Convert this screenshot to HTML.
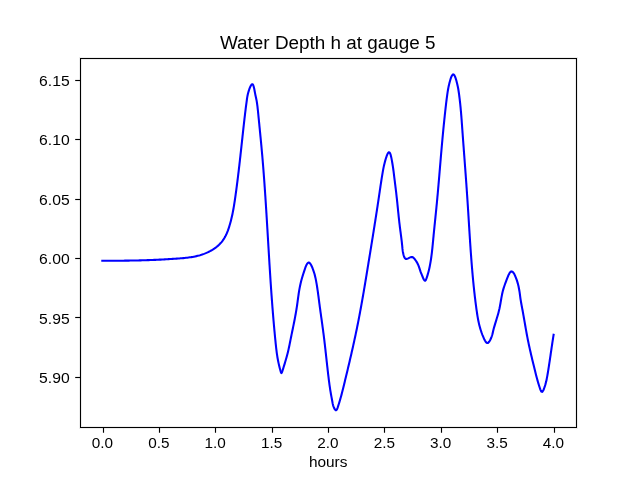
<!DOCTYPE html><html><head><meta charset="utf-8"><style>html,body{margin:0;padding:0;background:#fff;}svg{display:block;will-change:transform;}text{font-family:"Liberation Sans", sans-serif;fill:#000;}</style></head><body>
<svg width="640" height="480" viewBox="0 0 640 480">
<rect x="0" y="0" width="640" height="480" fill="#fff"/>
<path d="M102.30 260.72 L103.63 260.72 L104.96 260.73 L106.29 260.73 L107.62 260.73 L108.95 260.74 L110.28 260.74 L111.61 260.74 L112.94 260.73 L114.27 260.73 L115.60 260.73 L116.93 260.72 L118.26 260.71 L119.58 260.70 L120.91 260.69 L122.24 260.68 L123.57 260.67 L124.90 260.66 L126.22 260.64 L127.55 260.62 L128.88 260.60 L130.20 260.58 L131.53 260.56 L132.86 260.54 L134.18 260.51 L135.51 260.48 L136.84 260.45 L138.16 260.42 L139.49 260.39 L140.81 260.36 L142.14 260.32 L143.47 260.28 L144.79 260.24 L146.12 260.20 L147.44 260.16 L148.77 260.11 L150.10 260.06 L151.42 260.01 L152.75 259.96 L154.08 259.90 L155.40 259.85 L156.73 259.79 L158.06 259.73 L159.38 259.66 L160.71 259.60 L162.04 259.53 L163.36 259.46 L164.69 259.39 L166.02 259.31 L167.35 259.23 L168.68 259.15 L170.00 259.07 L171.33 258.99 L172.66 258.90 L173.99 258.81 L175.32 258.72 L176.65 258.62 L177.98 258.52 L179.31 258.42 L180.64 258.32 L181.97 258.20 L183.30 258.09 L184.62 257.96 L185.95 257.82 L187.27 257.67 L188.59 257.50 L189.90 257.32 L191.21 257.13 L192.52 256.91 L193.82 256.67 L195.12 256.41 L196.41 256.13 L197.69 255.82 L198.97 255.49 L200.24 255.13 L201.50 254.74 L202.75 254.32 L203.99 253.87 L205.22 253.39 L206.44 252.88 L207.65 252.34 L208.85 251.76 L210.03 251.15 L211.20 250.51 L212.36 249.83 L213.50 249.11 L214.61 248.35 L215.71 247.56 L216.78 246.74 L217.81 245.87 L218.81 244.98 L219.77 244.04 L220.68 243.08 L221.55 242.08 L222.36 241.04 L223.13 239.98 L223.85 238.88 L224.54 237.76 L225.18 236.62 L225.78 235.45 L226.35 234.26 L226.88 233.05 L227.39 231.82 L227.87 230.59 L228.32 229.34 L228.75 228.08 L229.16 226.81 L229.55 225.53 L229.93 224.26 L230.29 222.98 L230.64 221.69 L230.98 220.41 L231.30 219.11 L231.61 217.82 L231.90 216.52 L232.19 215.22 L232.47 213.92 L232.73 212.62 L232.99 211.31 L233.23 210.00 L233.47 208.69 L233.70 207.38 L233.92 206.07 L234.14 204.76 L234.35 203.44 L234.55 202.12 L234.75 200.81 L234.95 199.49 L235.14 198.17 L235.33 196.86 L235.51 195.54 L235.70 194.22 L235.88 192.91 L236.06 191.59 L236.24 190.27 L236.42 188.96 L236.59 187.64 L236.76 186.33 L236.94 185.01 L237.10 183.70 L237.27 182.38 L237.44 181.06 L237.60 179.75 L237.77 178.43 L237.93 177.12 L238.09 175.80 L238.25 174.49 L238.41 173.17 L238.57 171.86 L238.72 170.54 L238.88 169.22 L239.03 167.91 L239.18 166.59 L239.34 165.27 L239.49 163.96 L239.64 162.64 L239.79 161.32 L239.93 160.00 L240.08 158.69 L240.23 157.37 L240.38 156.05 L240.52 154.73 L240.67 153.41 L240.81 152.09 L240.96 150.77 L241.10 149.45 L241.25 148.13 L241.39 146.80 L241.54 145.48 L241.68 144.16 L241.82 142.83 L241.97 141.51 L242.11 140.18 L242.26 138.86 L242.40 137.53 L242.54 136.20 L242.69 134.87 L242.83 133.54 L242.98 132.22 L243.12 130.89 L243.27 129.56 L243.42 128.23 L243.56 126.91 L243.71 125.58 L243.86 124.25 L244.01 122.93 L244.16 121.61 L244.31 120.29 L244.46 118.97 L244.62 117.65 L244.77 116.33 L244.93 115.02 L245.08 113.71 L245.24 112.40 L245.40 111.10 L245.56 109.79 L245.72 108.49 L245.88 107.20 L246.05 105.91 L246.22 104.62 L246.39 103.33 L246.56 102.05 L246.73 100.78 L246.90 99.50 L247.09 98.22 L247.30 96.91 L247.56 95.54 L247.88 94.09 L248.28 92.53 L248.76 90.88 L249.31 89.23 L249.90 87.66 L250.52 86.28 L251.14 85.17 L251.74 84.45 L252.31 84.19 L252.81 84.49 L253.27 85.28 L253.67 86.46 L254.04 87.91 L254.37 89.54 L254.69 91.23 L254.99 92.86 L255.28 94.36 L255.57 95.73 L255.85 97.01 L256.12 98.24 L256.37 99.44 L256.61 100.67 L256.82 101.93 L257.02 103.22 L257.21 104.54 L257.38 105.87 L257.54 107.21 L257.69 108.56 L257.84 109.91 L257.98 111.25 L258.12 112.58 L258.25 113.91 L258.38 115.24 L258.51 116.56 L258.64 117.88 L258.77 119.19 L258.90 120.51 L259.03 121.83 L259.16 123.15 L259.29 124.47 L259.42 125.78 L259.55 127.10 L259.68 128.42 L259.81 129.74 L259.94 131.07 L260.07 132.39 L260.20 133.71 L260.33 135.03 L260.46 136.35 L260.59 137.67 L260.72 139.00 L260.85 140.32 L260.97 141.64 L261.10 142.96 L261.22 144.29 L261.35 145.61 L261.47 146.93 L261.59 148.26 L261.71 149.58 L261.83 150.90 L261.95 152.23 L262.07 153.55 L262.19 154.87 L262.30 156.20 L262.42 157.52 L262.53 158.85 L262.64 160.17 L262.75 161.50 L262.86 162.82 L262.97 164.14 L263.08 165.47 L263.18 166.79 L263.29 168.12 L263.39 169.44 L263.50 170.77 L263.60 172.09 L263.70 173.42 L263.80 174.74 L263.90 176.07 L264.00 177.39 L264.10 178.72 L264.20 180.04 L264.30 181.37 L264.39 182.69 L264.49 184.02 L264.58 185.34 L264.67 186.67 L264.77 187.99 L264.86 189.32 L264.95 190.64 L265.04 191.97 L265.13 193.29 L265.22 194.62 L265.31 195.94 L265.40 197.27 L265.48 198.59 L265.57 199.92 L265.66 201.25 L265.74 202.57 L265.83 203.90 L265.91 205.22 L266.00 206.55 L266.08 207.87 L266.17 209.20 L266.25 210.53 L266.33 211.85 L266.42 213.18 L266.50 214.50 L266.58 215.83 L266.66 217.16 L266.74 218.48 L266.82 219.81 L266.90 221.13 L266.98 222.46 L267.06 223.79 L267.14 225.11 L267.22 226.44 L267.30 227.76 L267.38 229.09 L267.46 230.42 L267.54 231.74 L267.62 233.07 L267.70 234.39 L267.78 235.72 L267.86 237.05 L267.94 238.37 L268.02 239.70 L268.09 241.02 L268.17 242.35 L268.25 243.68 L268.33 245.00 L268.41 246.33 L268.49 247.65 L268.57 248.98 L268.65 250.31 L268.73 251.63 L268.81 252.96 L268.89 254.28 L268.97 255.61 L269.05 256.94 L269.13 258.26 L269.21 259.59 L269.29 260.91 L269.37 262.24 L269.45 263.57 L269.54 264.89 L269.62 266.22 L269.70 267.54 L269.78 268.87 L269.87 270.19 L269.95 271.52 L270.04 272.85 L270.12 274.17 L270.21 275.50 L270.29 276.82 L270.38 278.15 L270.47 279.47 L270.55 280.80 L270.64 282.12 L270.73 283.45 L270.82 284.78 L270.91 286.10 L271.00 287.43 L271.09 288.75 L271.19 290.08 L271.28 291.40 L271.37 292.73 L271.47 294.05 L271.56 295.38 L271.66 296.70 L271.75 298.03 L271.85 299.35 L271.95 300.68 L272.05 302.00 L272.15 303.33 L272.25 304.65 L272.35 305.97 L272.45 307.30 L272.56 308.62 L272.66 309.95 L272.77 311.27 L272.87 312.60 L272.98 313.92 L273.09 315.24 L273.20 316.57 L273.31 317.89 L273.42 319.22 L273.54 320.54 L273.65 321.86 L273.76 323.19 L273.88 324.51 L274.00 325.84 L274.12 327.16 L274.24 328.48 L274.36 329.81 L274.48 331.13 L274.61 332.45 L274.73 333.78 L274.86 335.10 L274.98 336.42 L275.11 337.74 L275.24 339.07 L275.38 340.39 L275.51 341.71 L275.64 343.03 L275.78 344.36 L275.92 345.68 L276.06 347.00 L276.21 348.32 L276.37 349.63 L276.53 350.95 L276.70 352.26 L276.88 353.56 L277.07 354.87 L277.26 356.17 L277.47 357.46 L277.70 358.75 L277.93 360.04 L278.18 361.32 L278.45 362.60 L278.73 363.90 L279.04 365.21 L279.36 366.55 L279.71 367.93 L280.08 369.34 L280.47 370.81 L280.90 372.25 L281.34 373.10 L281.81 372.73 L282.28 371.45 L282.73 369.98 L283.17 368.58 L283.58 367.24 L283.99 365.93 L284.39 364.63 L284.78 363.35 L285.17 362.07 L285.54 360.80 L285.91 359.54 L286.28 358.28 L286.63 357.02 L286.97 355.76 L287.31 354.50 L287.63 353.23 L287.95 351.96 L288.25 350.68 L288.55 349.38 L288.84 348.08 L289.12 346.77 L289.39 345.45 L289.66 344.13 L289.92 342.80 L290.19 341.48 L290.45 340.16 L290.71 338.84 L290.98 337.53 L291.25 336.22 L291.51 334.92 L291.78 333.62 L292.05 332.32 L292.31 331.03 L292.58 329.74 L292.84 328.45 L293.11 327.16 L293.37 325.88 L293.63 324.59 L293.89 323.30 L294.15 322.01 L294.40 320.73 L294.65 319.43 L294.90 318.14 L295.14 316.85 L295.38 315.55 L295.62 314.25 L295.85 312.94 L296.07 311.63 L296.29 310.31 L296.51 308.99 L296.72 307.67 L296.92 306.33 L297.12 304.99 L297.31 303.65 L297.50 302.30 L297.68 300.95 L297.86 299.60 L298.05 298.26 L298.23 296.92 L298.42 295.59 L298.61 294.27 L298.80 292.96 L299.00 291.67 L299.21 290.40 L299.43 289.15 L299.66 287.91 L299.90 286.68 L300.15 285.47 L300.42 284.25 L300.70 283.03 L301.00 281.80 L301.32 280.56 L301.66 279.31 L302.02 278.02 L302.40 276.72 L302.81 275.37 L303.24 273.99 L303.70 272.56 L304.18 271.09 L304.70 269.56 L305.24 267.99 L305.82 266.46 L306.42 265.06 L307.05 263.88 L307.70 263.02 L308.39 262.57 L309.09 262.61 L309.81 263.14 L310.54 264.07 L311.25 265.29 L311.93 266.72 L312.57 268.26 L313.15 269.82 L313.67 271.31 L314.13 272.72 L314.53 274.08 L314.88 275.39 L315.19 276.66 L315.48 277.91 L315.73 279.15 L315.98 280.39 L316.21 281.64 L316.44 282.90 L316.66 284.17 L316.87 285.45 L317.08 286.73 L317.28 288.03 L317.47 289.33 L317.66 290.63 L317.85 291.95 L318.03 293.26 L318.21 294.59 L318.39 295.91 L318.56 297.24 L318.74 298.57 L318.91 299.90 L319.08 301.23 L319.25 302.56 L319.43 303.89 L319.60 305.22 L319.78 306.54 L319.96 307.87 L320.14 309.19 L320.32 310.51 L320.50 311.83 L320.68 313.14 L320.87 314.46 L321.05 315.77 L321.23 317.09 L321.42 318.40 L321.60 319.71 L321.79 321.02 L321.97 322.34 L322.15 323.65 L322.33 324.96 L322.51 326.27 L322.69 327.58 L322.87 328.89 L323.05 330.20 L323.22 331.51 L323.39 332.82 L323.56 334.14 L323.73 335.45 L323.90 336.77 L324.06 338.08 L324.22 339.40 L324.38 340.72 L324.54 342.04 L324.69 343.36 L324.85 344.68 L325.00 346.00 L325.15 347.32 L325.30 348.64 L325.45 349.96 L325.59 351.28 L325.74 352.61 L325.89 353.93 L326.03 355.25 L326.18 356.58 L326.32 357.90 L326.47 359.22 L326.61 360.55 L326.76 361.87 L326.91 363.19 L327.05 364.52 L327.20 365.84 L327.35 367.16 L327.50 368.48 L327.65 369.80 L327.80 371.12 L327.95 372.44 L328.10 373.76 L328.26 375.08 L328.42 376.40 L328.58 377.71 L328.74 379.03 L328.90 380.35 L329.07 381.66 L329.25 382.97 L329.43 384.29 L329.61 385.60 L329.80 386.91 L329.99 388.22 L330.19 389.54 L330.40 390.85 L330.62 392.16 L330.84 393.47 L331.07 394.77 L331.31 396.08 L331.56 397.39 L331.81 398.69 L332.05 399.99 L332.28 401.29 L332.51 402.58 L332.75 403.88 L333.07 405.22 L333.53 406.63 L334.16 408.11 L334.90 409.38 L335.66 410.15 L336.35 410.12 L336.95 409.33 L337.48 408.07 L337.97 406.63 L338.44 405.19 L338.89 403.78 L339.32 402.39 L339.73 401.01 L340.13 399.65 L340.51 398.31 L340.88 396.99 L341.24 395.67 L341.59 394.37 L341.93 393.08 L342.26 391.79 L342.58 390.52 L342.90 389.25 L343.22 387.98 L343.53 386.71 L343.84 385.45 L344.15 384.18 L344.45 382.91 L344.76 381.64 L345.07 380.37 L345.38 379.10 L345.69 377.83 L346.00 376.55 L346.30 375.28 L346.61 374.00 L346.92 372.72 L347.23 371.44 L347.53 370.16 L347.84 368.88 L348.14 367.59 L348.45 366.31 L348.75 365.02 L349.06 363.73 L349.36 362.44 L349.66 361.15 L349.96 359.86 L350.26 358.57 L350.56 357.28 L350.86 355.99 L351.16 354.69 L351.45 353.40 L351.75 352.10 L352.04 350.80 L352.34 349.51 L352.63 348.21 L352.92 346.91 L353.21 345.61 L353.50 344.31 L353.79 343.01 L354.07 341.71 L354.35 340.40 L354.64 339.10 L354.92 337.80 L355.20 336.50 L355.47 335.19 L355.75 333.89 L356.02 332.58 L356.30 331.28 L356.57 329.97 L356.84 328.67 L357.10 327.36 L357.37 326.06 L357.63 324.75 L357.89 323.44 L358.15 322.14 L358.41 320.83 L358.66 319.52 L358.91 318.22 L359.16 316.91 L359.41 315.60 L359.66 314.30 L359.91 312.99 L360.15 311.68 L360.39 310.37 L360.64 309.07 L360.87 307.76 L361.11 306.45 L361.35 305.14 L361.58 303.83 L361.82 302.53 L362.05 301.22 L362.28 299.91 L362.51 298.60 L362.74 297.29 L362.97 295.99 L363.20 294.68 L363.42 293.37 L363.65 292.06 L363.87 290.75 L364.09 289.44 L364.32 288.13 L364.54 286.83 L364.76 285.52 L364.98 284.21 L365.20 282.90 L365.41 281.59 L365.63 280.28 L365.85 278.97 L366.07 277.66 L366.28 276.35 L366.50 275.05 L366.71 273.74 L366.93 272.43 L367.14 271.12 L367.36 269.81 L367.57 268.50 L367.79 267.19 L368.00 265.88 L368.22 264.58 L368.43 263.27 L368.64 261.96 L368.86 260.65 L369.07 259.34 L369.29 258.03 L369.50 256.72 L369.71 255.42 L369.93 254.11 L370.14 252.80 L370.35 251.49 L370.57 250.18 L370.78 248.87 L370.99 247.56 L371.20 246.25 L371.42 244.94 L371.63 243.63 L371.84 242.32 L372.05 241.01 L372.26 239.70 L372.48 238.39 L372.69 237.08 L372.90 235.77 L373.11 234.46 L373.32 233.15 L373.53 231.84 L373.73 230.52 L373.94 229.21 L374.15 227.90 L374.36 226.59 L374.57 225.27 L374.77 223.96 L374.98 222.65 L375.19 221.33 L375.39 220.02 L375.60 218.70 L375.80 217.39 L376.01 216.07 L376.21 214.75 L376.42 213.44 L376.62 212.12 L376.82 210.80 L377.02 209.48 L377.23 208.16 L377.43 206.85 L377.63 205.53 L377.83 204.21 L378.02 202.88 L378.22 201.56 L378.42 200.24 L378.62 198.92 L378.81 197.59 L379.01 196.27 L379.21 194.95 L379.40 193.62 L379.59 192.30 L379.79 190.97 L379.98 189.65 L380.18 188.33 L380.37 187.01 L380.57 185.70 L380.76 184.39 L380.96 183.08 L381.16 181.78 L381.36 180.48 L381.56 179.19 L381.76 177.91 L381.97 176.63 L382.18 175.36 L382.39 174.10 L382.60 172.85 L382.81 171.61 L383.03 170.37 L383.26 169.13 L383.50 167.88 L383.76 166.60 L384.05 165.28 L384.38 163.89 L384.75 162.42 L385.17 160.87 L385.64 159.22 L386.16 157.56 L386.70 155.98 L387.27 154.56 L387.84 153.40 L388.41 152.59 L388.95 152.23 L389.47 152.38 L389.95 153.02 L390.39 154.07 L390.80 155.41 L391.18 156.97 L391.53 158.64 L391.85 160.34 L392.14 161.97 L392.40 163.51 L392.64 164.97 L392.85 166.37 L393.05 167.71 L393.24 169.00 L393.41 170.26 L393.57 171.49 L393.72 172.70 L393.87 173.91 L394.02 175.13 L394.17 176.36 L394.32 177.61 L394.48 178.87 L394.64 180.16 L394.81 181.46 L394.97 182.78 L395.14 184.11 L395.30 185.45 L395.47 186.79 L395.64 188.15 L395.80 189.50 L395.96 190.86 L396.13 192.22 L396.29 193.58 L396.44 194.94 L396.59 196.29 L396.74 197.63 L396.89 198.97 L397.03 200.30 L397.17 201.63 L397.31 202.95 L397.44 204.27 L397.58 205.58 L397.71 206.89 L397.84 208.20 L397.97 209.51 L398.10 210.81 L398.23 212.12 L398.37 213.42 L398.50 214.72 L398.64 216.03 L398.78 217.33 L398.92 218.64 L399.06 219.95 L399.20 221.26 L399.35 222.57 L399.51 223.89 L399.67 225.21 L399.83 226.54 L400.00 227.86 L400.17 229.20 L400.34 230.53 L400.52 231.87 L400.69 233.21 L400.87 234.54 L401.04 235.88 L401.21 237.21 L401.38 238.53 L401.54 239.85 L401.70 241.17 L401.85 242.48 L401.99 243.78 L402.13 245.07 L402.25 246.35 L402.37 247.62 L402.49 248.90 L402.64 250.18 L402.83 251.49 L403.07 252.82 L403.37 254.19 L403.76 255.61 L404.25 257.05 L404.90 258.29 L405.78 258.98 L406.94 258.91 L408.26 258.34 L409.60 257.65 L410.90 257.11 L412.11 257.00 L413.20 257.49 L414.19 258.43 L415.08 259.59 L415.89 260.75 L416.63 261.89 L417.29 263.03 L417.88 264.20 L418.40 265.41 L418.88 266.66 L419.32 267.92 L419.73 269.18 L420.14 270.42 L420.55 271.63 L420.98 272.80 L421.44 273.98 L421.94 275.21 L422.50 276.53 L423.12 277.98 L423.80 279.45 L424.50 280.51 L425.17 280.74 L425.80 280.03 L426.39 278.69 L426.92 277.11 L427.40 275.57 L427.83 274.12 L428.22 272.74 L428.57 271.42 L428.89 270.15 L429.19 268.90 L429.46 267.66 L429.72 266.42 L429.97 265.17 L430.21 263.92 L430.43 262.65 L430.65 261.38 L430.85 260.10 L431.05 258.81 L431.23 257.51 L431.41 256.21 L431.58 254.90 L431.75 253.59 L431.91 252.28 L432.06 250.95 L432.20 249.63 L432.35 248.30 L432.49 246.97 L432.62 245.64 L432.75 244.31 L432.88 242.97 L433.01 241.64 L433.14 240.30 L433.26 238.96 L433.39 237.63 L433.52 236.30 L433.64 234.96 L433.77 233.63 L433.90 232.31 L434.03 230.98 L434.17 229.66 L434.30 228.33 L434.43 227.01 L434.57 225.69 L434.70 224.37 L434.84 223.05 L434.97 221.73 L435.11 220.41 L435.24 219.10 L435.38 217.78 L435.51 216.47 L435.65 215.15 L435.78 213.83 L435.91 212.52 L436.05 211.20 L436.18 209.89 L436.31 208.57 L436.44 207.25 L436.57 205.94 L436.70 204.62 L436.83 203.30 L436.95 201.98 L437.08 200.66 L437.20 199.34 L437.32 198.02 L437.44 196.70 L437.57 195.37 L437.69 194.05 L437.81 192.73 L437.92 191.40 L438.04 190.08 L438.16 188.75 L438.27 187.43 L438.39 186.10 L438.51 184.78 L438.62 183.45 L438.73 182.13 L438.85 180.80 L438.96 179.47 L439.07 178.15 L439.19 176.82 L439.30 175.49 L439.41 174.17 L439.52 172.84 L439.63 171.51 L439.75 170.19 L439.86 168.86 L439.97 167.53 L440.08 166.21 L440.19 164.88 L440.30 163.56 L440.42 162.23 L440.53 160.90 L440.64 159.58 L440.75 158.25 L440.86 156.93 L440.98 155.60 L441.09 154.28 L441.21 152.96 L441.32 151.63 L441.43 150.31 L441.55 148.99 L441.67 147.67 L441.78 146.35 L441.90 145.03 L442.02 143.71 L442.14 142.39 L442.26 141.07 L442.38 139.75 L442.50 138.43 L442.62 137.12 L442.74 135.80 L442.87 134.48 L442.99 133.17 L443.12 131.85 L443.24 130.54 L443.37 129.22 L443.50 127.90 L443.63 126.58 L443.76 125.27 L443.90 123.95 L444.03 122.63 L444.17 121.30 L444.30 119.98 L444.44 118.66 L444.58 117.33 L444.72 116.00 L444.86 114.67 L445.01 113.34 L445.15 112.00 L445.30 110.67 L445.45 109.33 L445.60 107.98 L445.75 106.64 L445.91 105.30 L446.06 103.97 L446.22 102.63 L446.38 101.31 L446.54 100.00 L446.71 98.69 L446.88 97.40 L447.05 96.13 L447.22 94.86 L447.40 93.62 L447.58 92.40 L447.77 91.19 L447.97 89.96 L448.19 88.72 L448.44 87.42 L448.73 86.07 L449.06 84.63 L449.43 83.09 L449.86 81.45 L450.34 79.77 L450.85 78.17 L451.40 76.73 L451.97 75.56 L452.56 74.75 L453.16 74.41 L453.76 74.60 L454.35 75.29 L454.92 76.38 L455.47 77.75 L455.99 79.32 L456.47 80.98 L456.90 82.64 L457.27 84.20 L457.60 85.65 L457.89 87.01 L458.13 88.31 L458.35 89.55 L458.55 90.77 L458.73 91.98 L458.90 93.21 L459.08 94.47 L459.25 95.75 L459.42 97.05 L459.58 98.37 L459.74 99.69 L459.89 101.01 L460.04 102.34 L460.18 103.66 L460.32 104.99 L460.46 106.32 L460.59 107.65 L460.71 108.97 L460.83 110.30 L460.95 111.63 L461.06 112.96 L461.18 114.29 L461.28 115.62 L461.39 116.95 L461.49 118.27 L461.60 119.60 L461.70 120.93 L461.79 122.26 L461.89 123.59 L461.99 124.92 L462.08 126.25 L462.18 127.57 L462.27 128.90 L462.37 130.23 L462.47 131.55 L462.56 132.88 L462.66 134.21 L462.75 135.53 L462.85 136.86 L462.95 138.18 L463.05 139.51 L463.14 140.83 L463.24 142.15 L463.34 143.48 L463.44 144.80 L463.54 146.12 L463.64 147.45 L463.74 148.77 L463.83 150.09 L463.93 151.41 L464.03 152.73 L464.13 154.06 L464.23 155.38 L464.33 156.70 L464.43 158.02 L464.53 159.34 L464.63 160.66 L464.73 161.98 L464.82 163.30 L464.92 164.63 L465.02 165.95 L465.12 167.27 L465.22 168.59 L465.32 169.91 L465.41 171.23 L465.51 172.55 L465.61 173.87 L465.71 175.20 L465.80 176.52 L465.90 177.84 L466.00 179.16 L466.09 180.48 L466.19 181.80 L466.28 183.13 L466.38 184.45 L466.47 185.77 L466.56 187.10 L466.66 188.42 L466.75 189.74 L466.84 191.07 L466.93 192.39 L467.02 193.71 L467.11 195.04 L467.20 196.37 L467.29 197.69 L467.38 199.02 L467.47 200.34 L467.56 201.67 L467.64 203.00 L467.73 204.32 L467.82 205.65 L467.90 206.98 L467.98 208.31 L468.07 209.64 L468.15 210.97 L468.24 212.30 L468.32 213.63 L468.40 214.96 L468.49 216.29 L468.57 217.62 L468.65 218.95 L468.73 220.28 L468.82 221.61 L468.90 222.94 L468.98 224.27 L469.06 225.60 L469.15 226.93 L469.23 228.27 L469.31 229.60 L469.40 230.93 L469.48 232.26 L469.57 233.59 L469.65 234.92 L469.74 236.25 L469.82 237.58 L469.91 238.91 L470.00 240.25 L470.08 241.58 L470.17 242.91 L470.26 244.24 L470.35 245.57 L470.44 246.90 L470.53 248.23 L470.62 249.56 L470.72 250.88 L470.81 252.21 L470.91 253.54 L471.00 254.87 L471.10 256.20 L471.20 257.53 L471.30 258.85 L471.40 260.18 L471.50 261.51 L471.61 262.83 L471.71 264.16 L471.82 265.48 L471.93 266.81 L472.04 268.13 L472.15 269.45 L472.26 270.78 L472.37 272.10 L472.49 273.42 L472.61 274.74 L472.73 276.06 L472.85 277.38 L472.97 278.70 L473.10 280.02 L473.22 281.34 L473.35 282.66 L473.48 283.97 L473.62 285.29 L473.75 286.60 L473.89 287.92 L474.03 289.23 L474.17 290.54 L474.31 291.85 L474.46 293.16 L474.61 294.47 L474.76 295.78 L474.91 297.09 L475.07 298.40 L475.23 299.70 L475.39 301.01 L475.55 302.31 L475.72 303.62 L475.89 304.92 L476.06 306.22 L476.24 307.52 L476.41 308.82 L476.59 310.12 L476.78 311.41 L476.97 312.71 L477.16 314.01 L477.37 315.30 L477.58 316.60 L477.80 317.90 L478.04 319.20 L478.29 320.50 L478.56 321.81 L478.85 323.11 L479.16 324.43 L479.48 325.74 L479.83 327.06 L480.21 328.38 L480.61 329.71 L481.04 331.05 L481.49 332.39 L481.98 333.74 L482.50 335.10 L483.06 336.46 L483.65 337.83 L484.28 339.21 L484.94 340.55 L485.65 341.73 L486.39 342.60 L487.16 343.03 L487.97 342.87 L488.80 342.16 L489.60 341.05 L490.35 339.70 L491.01 338.26 L491.56 336.86 L492.02 335.50 L492.41 334.17 L492.74 332.88 L493.04 331.61 L493.33 330.35 L493.64 329.10 L493.97 327.85 L494.32 326.60 L494.68 325.34 L495.05 324.09 L495.43 322.83 L495.82 321.58 L496.21 320.32 L496.60 319.05 L496.98 317.78 L497.37 316.51 L497.74 315.23 L498.11 313.95 L498.46 312.66 L498.80 311.36 L499.11 310.06 L499.41 308.75 L499.68 307.43 L499.95 306.10 L500.19 304.78 L500.43 303.45 L500.66 302.13 L500.89 300.80 L501.12 299.49 L501.35 298.18 L501.59 296.87 L501.83 295.58 L502.09 294.31 L502.36 293.04 L502.65 291.80 L502.96 290.57 L503.29 289.36 L503.65 288.16 L504.04 286.96 L504.45 285.75 L504.89 284.50 L505.37 283.21 L505.87 281.85 L506.40 280.42 L506.97 278.90 L507.57 277.34 L508.19 275.81 L508.84 274.40 L509.51 273.17 L510.21 272.22 L510.92 271.60 L511.64 271.41 L512.37 271.68 L513.11 272.35 L513.83 273.34 L514.54 274.59 L515.21 276.02 L515.84 277.56 L516.43 279.14 L516.96 280.68 L517.42 282.17 L517.84 283.61 L518.20 285.00 L518.52 286.34 L518.80 287.66 L519.05 288.94 L519.27 290.20 L519.47 291.44 L519.66 292.67 L519.83 293.89 L519.99 295.11 L520.16 296.34 L520.32 297.57 L520.50 298.83 L520.70 300.10 L520.91 301.40 L521.14 302.72 L521.37 304.05 L521.62 305.40 L521.88 306.76 L522.13 308.11 L522.39 309.47 L522.64 310.81 L522.88 312.16 L523.13 313.49 L523.36 314.81 L523.60 316.13 L523.83 317.45 L524.06 318.76 L524.29 320.06 L524.51 321.36 L524.74 322.66 L524.96 323.96 L525.18 325.25 L525.41 326.54 L525.63 327.83 L525.86 329.11 L526.09 330.40 L526.32 331.69 L526.56 332.98 L526.79 334.27 L527.03 335.56 L527.28 336.86 L527.53 338.15 L527.79 339.45 L528.05 340.76 L528.32 342.07 L528.59 343.38 L528.87 344.69 L529.15 346.01 L529.44 347.33 L529.73 348.65 L530.03 349.97 L530.33 351.28 L530.63 352.60 L530.93 353.92 L531.24 355.23 L531.55 356.54 L531.86 357.85 L532.17 359.15 L532.48 360.45 L532.79 361.74 L533.10 363.02 L533.42 364.30 L533.73 365.57 L534.04 366.84 L534.34 368.09 L534.65 369.34 L534.96 370.58 L535.26 371.81 L535.56 373.03 L535.87 374.26 L536.19 375.50 L536.51 376.74 L536.85 378.01 L537.20 379.29 L537.57 380.61 L537.96 381.95 L538.37 383.33 L538.80 384.76 L539.26 386.23 L539.75 387.75 L540.28 389.29 L540.83 390.64 L541.42 391.58 L542.04 391.85 L542.70 391.34 L543.35 390.23 L543.97 388.76 L544.54 387.20 L545.02 385.73 L545.43 384.38 L545.78 383.10 L546.09 381.86 L546.36 380.65 L546.62 379.42 L546.87 378.17 L547.12 376.89 L547.35 375.59 L547.58 374.28 L547.80 372.96 L548.02 371.63 L548.24 370.30 L548.45 368.97 L548.66 367.64 L548.86 366.32 L549.06 365.00 L549.27 363.68 L549.47 362.36 L549.66 361.05 L549.86 359.74 L550.05 358.42 L550.25 357.11 L550.44 355.80 L550.63 354.50 L550.82 353.19 L551.01 351.88 L551.21 350.57 L551.40 349.26 L551.59 347.96 L551.78 346.65 L551.98 345.34 L552.18 344.03 L552.37 342.71 L552.57 341.40 L552.77 340.08 L552.98 338.77 L553.18 337.45 L553.39 336.12 L553.60 334.80" fill="none" stroke="#0000ff" stroke-width="2.08" stroke-linejoin="round" stroke-linecap="square"/>
<g fill="#000">
<g fill-opacity="0.07"><rect x="80" y="57" width="497" height="1"/><rect x="80" y="59" width="496" height="1"/><rect x="80" y="426" width="496" height="1"/><rect x="80" y="428" width="497" height="1"/><rect x="79" y="57" width="1" height="372"/><rect x="81" y="59" width="1" height="367"/><rect x="575" y="59" width="1" height="367"/><rect x="577" y="57" width="1" height="372"/></g>
<rect x="80" y="58" width="497" height="1"/>
<rect x="80" y="427" width="497" height="1"/>
<rect x="80" y="58" width="1" height="370"/>
<rect x="576" y="58" width="1" height="370"/>
<rect x="75.2" y="80" width="4.8" height="1"/><rect x="75.2" y="79" width="4.8" height="1" fill-opacity="0.07"/><rect x="75.2" y="81" width="4.8" height="1" fill-opacity="0.07"/>
<rect x="75.2" y="139" width="4.8" height="1"/><rect x="75.2" y="138" width="4.8" height="1" fill-opacity="0.07"/><rect x="75.2" y="140" width="4.8" height="1" fill-opacity="0.07"/>
<rect x="75.2" y="199" width="4.8" height="1"/><rect x="75.2" y="198" width="4.8" height="1" fill-opacity="0.07"/><rect x="75.2" y="200" width="4.8" height="1" fill-opacity="0.07"/>
<rect x="75.2" y="258" width="4.8" height="1"/><rect x="75.2" y="257" width="4.8" height="1" fill-opacity="0.07"/><rect x="75.2" y="259" width="4.8" height="1" fill-opacity="0.07"/>
<rect x="75.2" y="317" width="4.8" height="1"/><rect x="75.2" y="316" width="4.8" height="1" fill-opacity="0.07"/><rect x="75.2" y="318" width="4.8" height="1" fill-opacity="0.07"/>
<rect x="75.2" y="377" width="4.8" height="1"/><rect x="75.2" y="376" width="4.8" height="1" fill-opacity="0.07"/><rect x="75.2" y="378" width="4.8" height="1" fill-opacity="0.07"/>
<rect x="103" y="428" width="1" height="4.75"/><rect x="102" y="428" width="1" height="4.75" fill-opacity="0.07"/><rect x="104" y="428" width="1" height="4.75" fill-opacity="0.07"/>
<rect x="159" y="428" width="1" height="4.75"/><rect x="158" y="428" width="1" height="4.75" fill-opacity="0.07"/><rect x="160" y="428" width="1" height="4.75" fill-opacity="0.07"/>
<rect x="215" y="428" width="1" height="4.75"/><rect x="214" y="428" width="1" height="4.75" fill-opacity="0.07"/><rect x="216" y="428" width="1" height="4.75" fill-opacity="0.07"/>
<rect x="272" y="428" width="1" height="4.75"/><rect x="271" y="428" width="1" height="4.75" fill-opacity="0.07"/><rect x="273" y="428" width="1" height="4.75" fill-opacity="0.07"/>
<rect x="328" y="428" width="1" height="4.75"/><rect x="327" y="428" width="1" height="4.75" fill-opacity="0.07"/><rect x="329" y="428" width="1" height="4.75" fill-opacity="0.07"/>
<rect x="384" y="428" width="1" height="4.75"/><rect x="383" y="428" width="1" height="4.75" fill-opacity="0.07"/><rect x="385" y="428" width="1" height="4.75" fill-opacity="0.07"/>
<rect x="441" y="428" width="1" height="4.75"/><rect x="440" y="428" width="1" height="4.75" fill-opacity="0.07"/><rect x="442" y="428" width="1" height="4.75" fill-opacity="0.07"/>
<rect x="497" y="428" width="1" height="4.75"/><rect x="496" y="428" width="1" height="4.75" fill-opacity="0.07"/><rect x="498" y="428" width="1" height="4.75" fill-opacity="0.07"/>
<rect x="554" y="428" width="1" height="4.75"/><rect x="553" y="428" width="1" height="4.75" fill-opacity="0.07"/><rect x="555" y="428" width="1" height="4.75" fill-opacity="0.07"/>
</g>
<text x="69.7" y="86.00" font-size="14.70" text-anchor="end" textLength="30.6" lengthAdjust="spacingAndGlyphs">6.15</text>
<text x="69.7" y="145.40" font-size="14.70" text-anchor="end" textLength="30.6" lengthAdjust="spacingAndGlyphs">6.10</text>
<text x="69.7" y="204.80" font-size="14.70" text-anchor="end" textLength="30.6" lengthAdjust="spacingAndGlyphs">6.05</text>
<text x="69.7" y="264.20" font-size="14.70" text-anchor="end" textLength="30.6" lengthAdjust="spacingAndGlyphs">6.00</text>
<text x="69.7" y="323.60" font-size="14.70" text-anchor="end" textLength="30.6" lengthAdjust="spacingAndGlyphs">5.95</text>
<text x="69.7" y="383.00" font-size="14.70" text-anchor="end" textLength="30.6" lengthAdjust="spacingAndGlyphs">5.90</text>
<text x="102.50" y="448" font-size="14.70" text-anchor="middle" textLength="21.3" lengthAdjust="spacingAndGlyphs">0.0</text>
<text x="158.88" y="448" font-size="14.70" text-anchor="middle" textLength="21.3" lengthAdjust="spacingAndGlyphs">0.5</text>
<text x="215.25" y="448" font-size="14.70" text-anchor="middle" textLength="21.3" lengthAdjust="spacingAndGlyphs">1.0</text>
<text x="271.62" y="448" font-size="14.70" text-anchor="middle" textLength="21.3" lengthAdjust="spacingAndGlyphs">1.5</text>
<text x="328.00" y="448" font-size="14.70" text-anchor="middle" textLength="21.3" lengthAdjust="spacingAndGlyphs">2.0</text>
<text x="384.38" y="448" font-size="14.70" text-anchor="middle" textLength="21.3" lengthAdjust="spacingAndGlyphs">2.5</text>
<text x="440.75" y="448" font-size="14.70" text-anchor="middle" textLength="21.3" lengthAdjust="spacingAndGlyphs">3.0</text>
<text x="497.12" y="448" font-size="14.70" text-anchor="middle" textLength="21.3" lengthAdjust="spacingAndGlyphs">3.5</text>
<text x="553.50" y="448" font-size="14.70" text-anchor="middle" textLength="21.3" lengthAdjust="spacingAndGlyphs">4.0</text>
<text x="327.8" y="48.6" font-size="17.6" text-anchor="middle" textLength="215.6" lengthAdjust="spacingAndGlyphs">Water Depth h at gauge 5</text>
<text x="328.2" y="466.6" font-size="14.7" text-anchor="middle" textLength="38.5" lengthAdjust="spacingAndGlyphs">hours</text>
</svg></body></html>
